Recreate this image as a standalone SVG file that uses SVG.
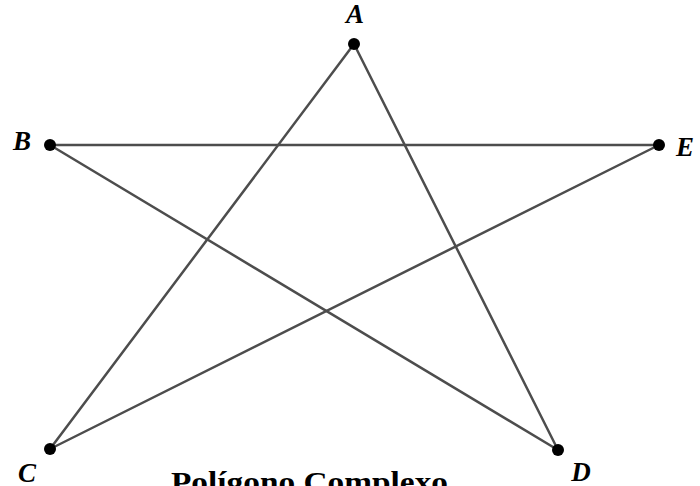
<svg xmlns="http://www.w3.org/2000/svg" width="700" height="486" viewBox="0 0 700 486">
<style>
.edge{stroke:#4d4d4d;stroke-width:2.5;fill:none;stroke-linecap:round}
.pt{fill:#000}
.lbl{font-family:"Liberation Serif","DejaVu Serif",serif;font-style:italic;font-weight:bold;font-size:27px;fill:#000}
.title{font-family:"Liberation Serif","DejaVu Serif",serif;font-weight:bold;font-size:30px;fill:#000}
</style>
<rect width="700" height="486" fill="#fff"/>
<g id="connectors">
<line class="edge" x1="354" y1="44" x2="50" y2="449"/>
<line class="edge" x1="354" y1="44" x2="558" y2="450"/>
<line class="edge" x1="50" y1="145" x2="659" y2="145"/>
<line class="edge" x1="50" y1="145" x2="558" y2="450"/>
<line class="edge" x1="659" y1="145" x2="50" y2="449"/>
</g>
<g id="A"><circle class="pt" cx="354" cy="44" r="6"/><text class="lbl" x="355" y="23" text-anchor="middle">A</text></g>
<g id="B"><circle class="pt" cx="50" cy="145" r="6"/><text class="lbl" x="22" y="150" text-anchor="middle">B</text></g>
<g id="E"><circle class="pt" cx="659" cy="145" r="6"/><text class="lbl" x="685" y="156" text-anchor="middle">E</text></g>
<g id="C"><circle class="pt" cx="50" cy="449" r="6"/><text class="lbl" x="27" y="482" text-anchor="middle">C</text></g>
<g id="D"><circle class="pt" cx="558" cy="450" r="6"/><text class="lbl" x="581" y="481" text-anchor="middle">D</text></g>
<text class="title" x="171" y="492" textLength="277" lengthAdjust="spacingAndGlyphs">Polígono Complexo</text>
</svg>
